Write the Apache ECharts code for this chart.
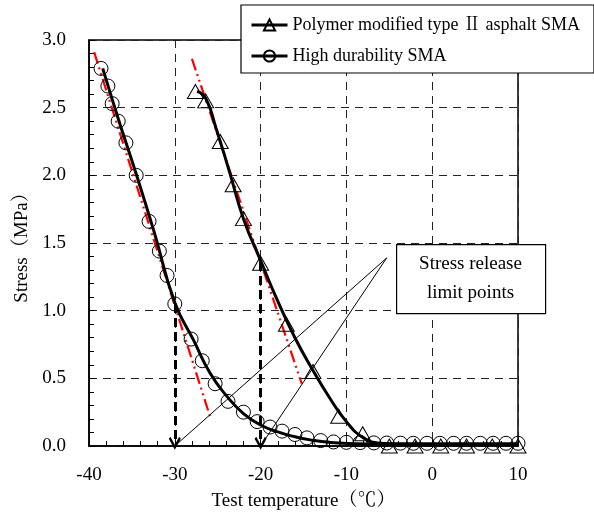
<!DOCTYPE html>
<html>
<head>
<meta charset="utf-8">
<script src="https://cdn.jsdelivr.net/npm/echarts@6/dist/echarts.min.js"></script>
<style>
  html, body { margin: 0; padding: 0; background: #fff; }
  #main { width: 594px; height: 519px; }
</style>
</head>
<body>
<div id="main"></div>
<script>
// 数据 —— 高耐久 SMA (圆点)
var highTemp = [-38.6, -37.8, -37.3, -36.6, -35.7, -34.5, -33.0, -31.8, -30.9, -30.0, -28.1, -26.8, -25.3, -23.8,
  -22.0, -20.4, -18.9, -17.5, -16.0, -14.6, -13.0, -11.5, -10.0, -8.4, -6.8, -5.3, -3.7, -2.2, -0.6, 0.9,
  2.5, 4.0, 5.6, 7.1, 8.6, 10.0];
var highStress = [2.79, 2.66, 2.53, 2.40, 2.24, 2.00, 1.66, 1.44, 1.26, 1.05, 0.79, 0.63, 0.46, 0.33,
  0.25, 0.18, 0.14, 0.11, 0.085, 0.06, 0.04, 0.03, 0.027, 0.025, 0.023, 0.022, 0.021, 0.02, 0.02, 0.02,
  0.02, 0.02, 0.02, 0.02, 0.02, 0.02];
// 高耐久 SMA 拟合曲线
var highFitTemp = [-38.4, -36.6, -34.5, -32.4, -30.0, -27.8, -25.9, -23.9, -22.0,
  -20.0, -18.0, -16.0, -14.0, -12.0, -9.0, -6.0, 10.0];
var highFitStress = [2.79, 2.42, 2.01, 1.58, 1.06, 0.78, 0.54, 0.365, 0.24,
  0.155, 0.104, 0.068, 0.043, 0.027, 0.017, 0.015, 0.015];
// 聚合物改性 II 型沥青 SMA (三角)
var polyTemp = [-27.6, -26.4, -24.7, -23.2, -22.0, -20.0, -17.0, -13.9, -10.9, -8.1, -5.0, -2.0, 1.0, 4.0, 7.0, 10.0];
var polyStress = [2.62, 2.55, 2.25, 1.93, 1.68, 1.35, 0.90, 0.55, 0.22, 0.09, 0.0, 0.0, 0.0, 0.0, 0.0, 0.0];
// 聚合物改性 SMA 拟合曲线
var polyFitTemp = [-27.4, -26.4, -25.2, -23.6, -22.0, -20.0, -18.0, -16.0, -14.0, -12.0, -10.0, -8.0, -6.0, -4.0, 10.0];
var polyFitStress = [2.62, 2.57, 2.35, 2.02, 1.68, 1.37, 1.07, 0.80, 0.57, 0.36, 0.18, 0.06, 0.02, 0.015, 0.015];
// 红色切线
var tangentHighTemp = [-39.4, -25.8];
var tangentHighStress = [2.91, 0.2];
var tangentPolyTemp = [-28.0, -15.2];
var tangentPolyStress = [2.86, 0.46];
// 应力松弛极限点 (箭头)
var limitTemp = [-30, -20];
var limitStress = [1.05, 1.36];
var calloutTemp = -5.3, calloutStress = 1.39;
// 坐标轴
var xMin = -40, xMax = 10, xStep = 10;
var yMin = 0, yMax = 3, yStep = 0.5;

var seriesNames = ['Polymer modified type Ⅱ asphalt SMA', 'High durability SMA'];
var serif = "'Liberation Serif', 'Noto Serif CJK SC', 'Noto Sans CJK SC', serif";
// 开口箭头
var openArrow = 'path://M50,0 L100,82 L86,96 L50,38 L14,96 L0,82 Z';

function zip(a, b) {
  return a.map(function (v, i) { return [v, b[i]]; });
}

var chart = echarts.init(document.getElementById('main'), null, { renderer: 'canvas' });

function axisCommon() {
  return {
    type: 'value',
    nameLocation: 'middle',
    nameTextStyle: { fontFamily: serif, fontSize: 19, color: '#000' },
    axisLine: { show: true, onZero: false, lineStyle: { color: '#000', width: 1.5 } },
    axisTick: { show: true, inside: true, length: 6, lineStyle: { color: '#000', width: 1 } },
    minorTick: { show: true, splitNumber: 5, length: 5, lineStyle: { color: '#000', width: 1 } },
    splitLine: { show: true, lineStyle: { color: '#222', width: 1, type: [8, 6] } },
    axisLabel: { fontFamily: serif, fontSize: 19, color: '#000' }
  };
}

var xAxis = axisCommon();
xAxis.min = xMin; xAxis.max = xMax; xAxis.interval = xStep;
xAxis.name = 'Test temperature（℃）';
xAxis.nameGap = 46;
xAxis.axisLabel.margin = 20;

var yAxis = axisCommon();
yAxis.min = yMin; yAxis.max = yMax; yAxis.interval = yStep;
yAxis.name = 'Stress（MPa）';
yAxis.nameGap = 57;
yAxis.axisLabel.margin = 23;
yAxis.axisLabel.formatter = function (v) { return v.toFixed(1); };

// 拟合曲线 (粗黑线)
function fitLine(name, temps, stresses) {
  return {
    name: name, type: 'line', silent: true, symbol: 'none', z: 3,
    data: zip(temps, stresses),
    smooth: 0.5,
    lineStyle: { color: '#000', width: 3 }
  };
}

// 数据点 (空心标记)
function markerSeries(name, temps, stresses, symbol, size) {
  return {
    name: name, type: 'line', clip: false, z: 4,
    data: zip(temps, stresses),
    symbol: symbol, symbolSize: size,
    color: '#000',
    lineStyle: { width: 0, opacity: 0 },
    itemStyle: { color: 'rgba(255,255,255,0)', borderColor: '#000', borderWidth: 1 }
  };
}

var option = {
  animation: false,
  backgroundColor: '#fff',
  grid: { left: 89, right: 76, top: 40, bottom: 73, show: true, borderColor: '#000', borderWidth: 1.5 },
  legend: {
    data: seriesNames,
    orient: 'vertical',
    left: 241,
    top: 5,
    padding: [11, 14, 8, 9],
    itemGap: 13,
    itemWidth: 36,
    itemHeight: 14,
    borderColor: '#000',
    borderWidth: 1.2,
    backgroundColor: '#fff',
    lineStyle: { color: '#000', width: 3, opacity: 1 },
    textStyle: { fontFamily: serif, fontSize: 18, color: '#000' },
    z: 10
  },
  xAxis: xAxis,
  yAxis: yAxis,
  graphic: [
    { type: 'rect', left: 396, top: 244, z: 50, shape: { width: 149, height: 69 },
      style: { fill: '#fff', stroke: '#000', lineWidth: 1.2 } },
    { type: 'text', x: 470.5, y: 278.5, z: 51,
      style: { text: 'Stress release\nlimit points', align: 'center', verticalAlign: 'middle',
        font: '19px ' + serif, lineHeight: 29, fill: '#000' } }
  ],
  series: [
    {
      name: 'tangentHigh', type: 'line', silent: true, symbol: 'none', z: 2,
      data: zip(tangentHighTemp, tangentHighStress),
      lineStyle: { color: '#ff0000', width: 2.2, type: [12, 4, 2, 4, 2, 4] }
    },
    {
      name: 'tangentPoly', type: 'line', silent: true, symbol: 'none', z: 2,
      data: zip(tangentPolyTemp, tangentPolyStress),
      lineStyle: { color: '#ff0000', width: 2.2, type: [12, 4, 2, 4, 2, 4] }
    },
    {
      name: 'callout', type: 'line', silent: true, symbol: 'none', z: 2,
      data: [[limitTemp[0], 0], [calloutTemp, calloutStress], [limitTemp[1], 0]],
      lineStyle: { color: '#000', width: 1 }
    },
    fitLine('polyFit', polyFitTemp, polyFitStress),
    fitLine('highFit', highFitTemp, highFitStress),
    markerSeries(seriesNames[0], polyTemp, polyStress, 'triangle', [16, 14]),
    markerSeries(seriesNames[1], highTemp, highStress, 'circle', 14),
    {
      name: 'limitArrows', type: 'line', silent: true, data: [],
      markLine: {
        silent: true,
        symbol: ['none', openArrow],
        symbolSize: [12, 13],
        label: { show: false },
        lineStyle: { color: '#000', width: 3, type: [9, 5] },
        data: limitTemp.map(function (t, i) {
          return [{ coord: [t, limitStress[i]] }, { coord: [t, 0.02] }];
        })
      }
    }
  ]
};

chart.setOption(option);
</script>
</body>
</html>
